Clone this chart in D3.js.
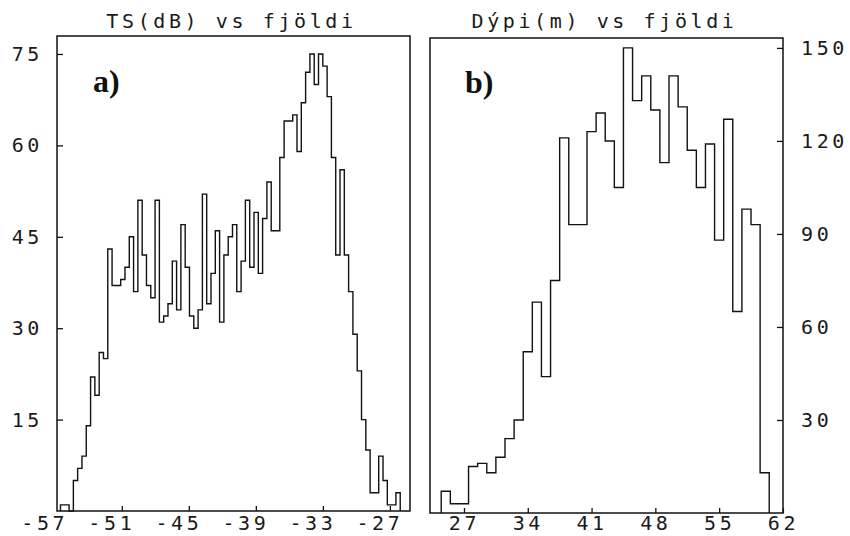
<!DOCTYPE html>
<html lang="en">
<head>
<meta charset="UTF-8">
<title>TS og dýpi vs fjöldi</title>
<script src="https://cdn.jsdelivr.net/npm/d3@7/dist/d3.min.js"></script>
<style>
  body { margin: 0; background: #fff; }
  .lbl { font-family: "DejaVu Sans Mono", monospace; font-size: 20px; letter-spacing: 3.6px; fill: #1a1a1a; }
  .tag { font-family: "Liberation Serif", serif; font-weight: bold; font-size: 32px; fill: #111; }
</style>
</head>
<body>
<div id="chart"></div>
<script>
// a) TS histogram
const tsCounts = [1, 1, 0, 5, 7, 9, 14, 22, 19, 26, 25, 43, 37, 37, 38, 40, 45, 36, 51, 42,
  37, 35, 51, 31, 32, 34, 41, 33, 47, 40, 32, 30, 33, 52, 34, 39, 46, 31, 42, 45,
  47, 36, 41, 51, 40, 49, 39, 48, 54, 46, 46, 58, 64, 64, 65, 59, 67, 72, 75, 70,
  75, 73, 68, 58, 42, 56, 42, 36, 29, 23, 15, 10, 3, 3, 9, 5, 1, 1, 3];
const tsStart = -56.49;
const tsBinWidth = 0.385;
const tsTicksX = [-57, -51, -45, -39, -33, -27];
const tsTicksY = [15, 30, 45, 60, 75];

// b) depth histogram
const depthCounts = [7, 3, 3, 15, 16, 13, 18, 24, 30, 52, 68, 44, 75, 121, 93, 93, 123, 129, 120, 105,
  150, 133, 141, 130, 113, 141, 131, 117, 105, 119, 88, 127, 65, 98, 93, 13];
const depthStart = 24.5;
const depthBinWidth = 1;
const depthTicksX = [27, 34, 41, 48, 55, 62];
const depthTicksY = [30, 60, 90, 120, 150];

const W = 850, H = 536;
const svg = d3.select("#chart").append("svg")
  .attr("width", W).attr("height", H);

function histPoints(counts, start, w) {
  const pts = [[start, 0]];
  counts.forEach((c, i) => {
    pts.push([start + i * w, c]);
    pts.push([start + (i + 1) * w, c]);
  });
  pts.push([start + counts.length * w, 0]);
  return pts;
}

function panel(p) {
  const x = d3.scaleLinear().domain(p.xDomain).range([p.left, p.left + p.width]);
  const y = d3.scaleLinear().domain(p.yDomain).range([p.top + p.height, p.top]);
  const g = svg.append("g");

  // histogram outline
  const line = d3.line().x(d => x(d[0])).y(d => y(d[1]));
  g.append("path")
    .attr("d", line(histPoints(p.counts, p.start, p.binWidth)))
    .attr("fill", "none")
    .attr("stroke", "#111")
    .attr("stroke-width", 1.4);

  // x axis, ticks inside
  const gx = g.append("g")
    .attr("transform", `translate(0,${p.top + p.height})`)
    .call(d3.axisBottom(x).tickValues(p.xTicks).tickSize(-5).tickPadding(p.xPad)
      .tickFormat(d => String(d)))
    .attr("font-size", null).attr("font-family", null);
  gx.select(".domain").remove();
  gx.selectAll(".tick line").attr("stroke", "#111").attr("stroke-width", 1.3)
    .attr("opacity", d => (d < p.xDomain[0] || d >= p.xDomain[1]) ? 0 : 1);
  gx.selectAll(".tick text").attr("class", "lbl").attr("fill", null)
    .attr("text-anchor", p.xAnchor).attr("dx", p.xDx);

  // y axis, ticks inside
  const axisY = p.yRight ? d3.axisRight(y) : d3.axisLeft(y);
  const gy = g.append("g")
    .attr("transform", `translate(${p.yRight ? p.left + p.width : p.left},0)`)
    .call(axisY.tickValues(p.yTicks).tickSize(-6).tickPadding(p.yPad))
    .attr("font-size", null).attr("font-family", null);
  gy.select(".domain").remove();
  gy.selectAll(".tick line").attr("stroke", "#111").attr("stroke-width", 1.3);
  gy.selectAll(".tick text").attr("class", "lbl").attr("fill", null);

  // frame
  g.append("rect")
    .attr("x", p.left).attr("y", p.top)
    .attr("width", p.width).attr("height", p.height)
    .attr("fill", "none").attr("stroke", "#111").attr("stroke-width", 1.5);

  // title
  g.append("text")
    .attr("class", "lbl")
    .attr("x", p.left + p.width / 2 + p.titleDx)
    .attr("y", p.titleY)
    .attr("text-anchor", "middle")
    .text(p.title);

  // panel tag
  g.append("text")
    .attr("class", "tag")
    .attr("x", p.tagX).attr("y", p.tagY)
    .text(p.tag);
}

panel({
  left: 57, top: 36, width: 353, height: 475,
  xDomain: [-56.8, -25.2], yDomain: [0, 77.95],
  counts: tsCounts, start: tsStart, binWidth: tsBinWidth,
  xTicks: tsTicksX, yTicks: tsTicksY,
  xPad: 5, xAnchor: "end", xDx: 13,
  yRight: false, yPad: 14,
  title: "TS(dB) vs fjöldi", titleY: 28, titleDx: -2,
  tag: "a)", tagX: 93, tagY: 92
});

panel({
  left: 430, top: 38, width: 353, height: 475,
  xDomain: [23.27, 62.01], yDomain: [0, 153.2],
  counts: depthCounts, start: depthStart, binWidth: depthBinWidth,
  xTicks: depthTicksX, yTicks: depthTicksY,
  xPad: 3, xAnchor: "middle", xDx: 0,
  yRight: true, yPad: 18,
  title: "Dýpi(m) vs fjöldi", titleY: 28, titleDx: -2,
  tag: "b)", tagX: 465, tagY: 93
});
</script>
</body>
</html>
